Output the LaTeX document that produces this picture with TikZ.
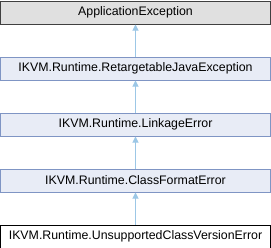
\documentclass[tikz,border=0pt]{standalone}
\usepackage{fontspec}
\setmainfont{Liberation Sans}
\usetikzlibrary{arrows.meta}
\definecolor{grayfill}{HTML}{E0E0E0}
\definecolor{blufill}{HTML}{E8ECF6}
\definecolor{bluedge}{HTML}{7F95C4}
\definecolor{arrowc}{HTML}{9CC7E6}
\tikzset{
  cls/.style={draw, line width=1bp, minimum width=270bp, minimum height=23bp, inner sep=0pt, font=\fontsize{12.4}{14}\selectfont, anchor=north},
  base/.style={cls, fill=grayfill, draw=black!75},
  mid/.style={cls, fill=blufill, draw=bluedge},
  leaf/.style={cls, fill=white, draw=black},
  inh/.style={draw=arrowc, line width=1bp, -{Triangle[width=6bp,length=6bp]}},
}
\begin{document}
\begin{tikzpicture}[x=1bp,y=1bp]
\useasboundingbox (0,0) rectangle (271,-248);
\node[base] (a) at (135.5,-0.5) {ApplicationException};
\node[mid] (b) at (135.5,-56.5) {IKVM.Runtime.RetargetableJavaException};
\node[mid] (c) at (135.5,-112.5) {IKVM.Runtime.LinkageError};
\node[mid] (d) at (135.5,-168.5) {IKVM.Runtime.ClassFormatError};
\node[leaf] (e) at (135.5,-224.5) {IKVM.Runtime.UnsupportedClassVersionError};
\draw[inh] (b) -- (a);
\draw[inh] (c) -- (b);
\draw[inh] (d) -- (c);
\draw[inh] (e) -- (d);
\end{tikzpicture}
\end{document}
